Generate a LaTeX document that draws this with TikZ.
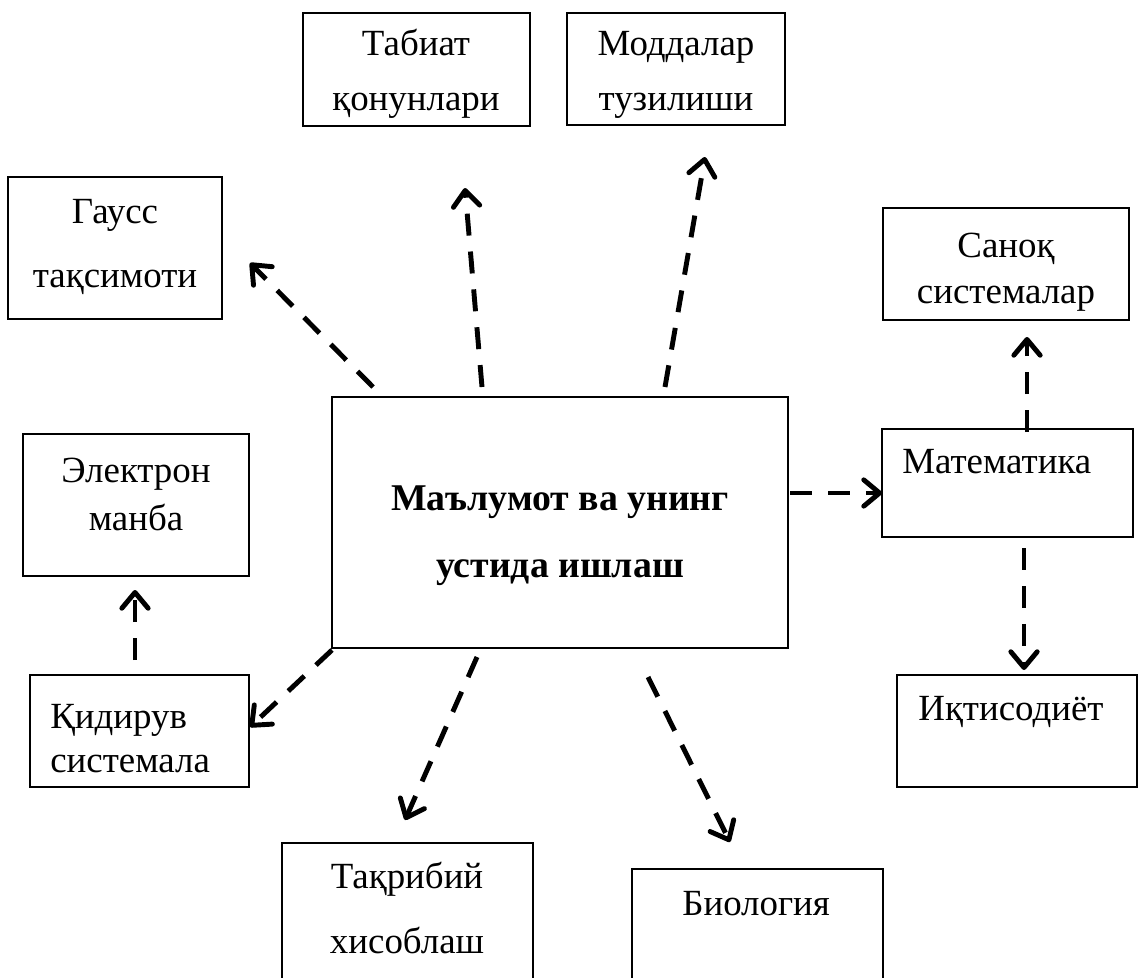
\documentclass[tikz,border=0pt]{standalone}
\usepackage{fontspec}
\setmainfont{Liberation Serif}
\usetikzlibrary{arrows.meta}
\begin{document}
\begin{tikzpicture}[x=0.02cm,y=-0.02cm,
  box/.style={draw, line width=0.8pt, inner sep=0pt},
  lbl/.style={font=\fontsize{21}{24}\selectfont, inner sep=0pt, anchor=base},
  link/.style={line width=2.8pt, dash pattern=on 0.44cm off 0.32cm,
    -{Straight Barb[length=9pt,width=15pt,round]}}]
\useasboundingbox (0,0) rectangle (1139,977);
% boxes
\node[box, minimum width=9.12cm, minimum height=5.02cm] (info) at (560,522.5) {};
\node[box, minimum width=4.54cm, minimum height=2.26cm] (tabiat) at (416.5,69.5) {};
\node[box, minimum width=4.36cm, minimum height=2.24cm] (modda) at (676,69) {};
\node[box, minimum width=4.28cm, minimum height=2.84cm] (gauss) at (115,248) {};
\node[box, minimum width=4.92cm, minimum height=2.24cm] (sanoq) at (1006,264) {};
\node[box, minimum width=5.02cm, minimum height=2.16cm] (matem) at (1007.5,483) {};
\node[box, minimum width=4.52cm, minimum height=2.84cm] (elektr) at (136,505) {};
\node[box, minimum width=4.38cm, minimum height=2.24cm] (qidir) at (139.5,731) {};
\node[box, minimum width=4.80cm, minimum height=2.24cm] (iqtis) at (1017,731) {};
\node[box, minimum width=5.02cm, minimum height=2.84cm] (taqrib) at (407.5,914) {};
\node[box, minimum width=5.02cm, minimum height=2.32cm] (biolog) at (757.5,927) {};
% texts
\node[lbl, font=\fontsize{21.5}{24}\selectfont\bfseries] (infoA) at (560,510) {Маълумот ва унинг};
\node[lbl, font=\fontsize{21.5}{24}\selectfont\bfseries] (infoB) at (560,577) {устида ишлаш};
\node[lbl] (tabiatA) at (416,55) {Табиат};
\node[lbl] (tabiatB) at (416,110) {қонунлари};
\node[lbl] (moddaA) at (676,55) {Моддалар};
\node[lbl] (moddaB) at (676,110) {тузилиши};
\node[lbl] (gaussA) at (115,223) {Гаусс};
\node[lbl] (gaussB) at (115,287) {тақсимоти};
\node[lbl] (sanoqA) at (1006,257) {Саноқ};
\node[lbl] (sanoqB) at (1006,303) {системалар};
\node[lbl, anchor=base west] (matemA) at (902,473) {Математика};
\node[lbl] (elektrA) at (136,482) {Электрон};
\node[lbl] (elektrB) at (136,530) {манба};
\node[lbl, anchor=base west] (qidirA) at (50,728) {Қидирув};
\node[lbl, anchor=base west] (qidirB) at (50,772) {системала};
\node[lbl, anchor=base west] (iqtisA) at (918,720) {Иқтисодиёт};
\node[lbl] (taqribA) at (407,888) {Тақрибий};
\node[lbl] (taqribB) at (407,953) {хисоблаш};
\node[lbl, anchor=base west] (biologA) at (682,915) {Биология};
% arrow ends
\coordinate (g1) at (373,387); \coordinate (g2) at (250,263);
\coordinate (t1) at (482,387); \coordinate (t2) at (465,188);
\coordinate (m1) at (665,387); \coordinate (m2) at (705,157);
\coordinate (s1) at (1027,432); \coordinate (s2) at (1027,337);
\coordinate (a1) at (790,493); \coordinate (a2) at (882,493);
\coordinate (q1) at (1024,548); \coordinate (q2) at (1024,670);
\coordinate (b1) at (648,677); \coordinate (b2) at (730,842);
\coordinate (r1) at (477,657); \coordinate (r2) at (405,820);
\coordinate (k1) at (332,650); \coordinate (k2) at (250,727);
\coordinate (e1) at (135,660); \coordinate (e2) at (135,590);
% arrows
\draw[link] (g1) -- (g2);
\draw[link] (t1) -- (t2);
\draw[link] (m1) -- (m2);
\draw[link] (s1) -- (s2);
\draw[link] (a1) -- (a2);
\draw[link] (q1) -- (q2);
\draw[link] (b1) -- (b2);
\draw[link] (r1) -- (r2);
\draw[link] (k1) -- (k2);
\draw[link] (e1) -- (e2);
\end{tikzpicture}
\end{document}
